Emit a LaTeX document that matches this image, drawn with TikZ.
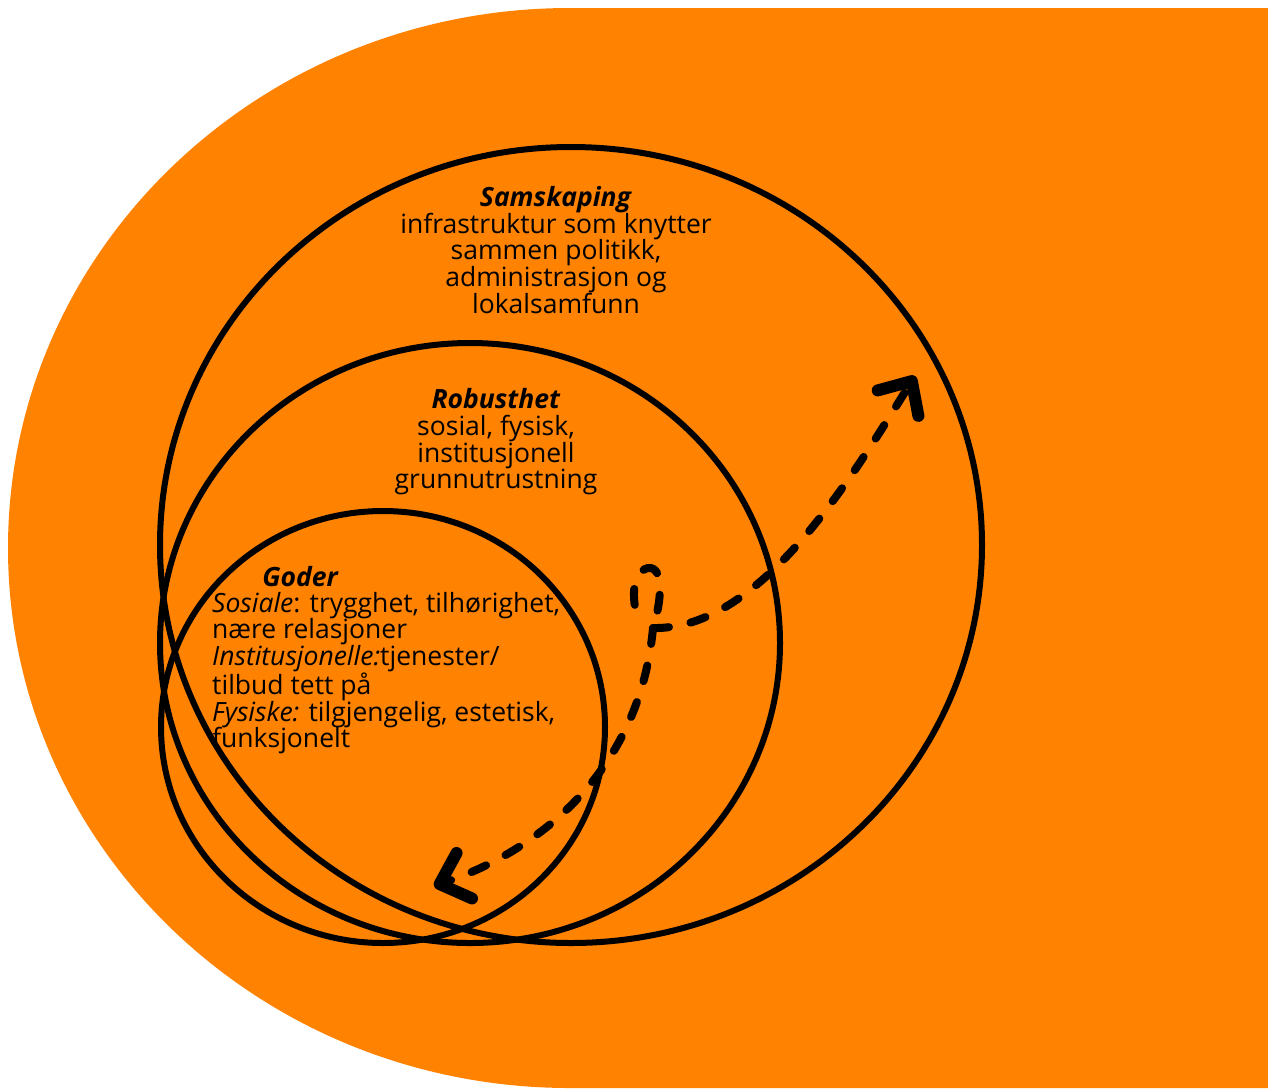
\documentclass[tikz,border=0pt]{standalone}
\usepackage{fontspec}
\setmainfont{Open Sans}
\usetikzlibrary{arrows.meta}
\definecolor{bgorange}{RGB}{255,130,0}

\begin{document}
\begin{tikzpicture}[x=1pt, y=-1pt,
        ring/.style={draw=black, line width=6pt},
        lbl/.style={draw=none, fill=none, inner sep=0pt, font=\fontsize{26.5}{26.7}\selectfont},
        ttl/.style={lbl, font=\fontsize{26.5}{26.7}\selectfont\bfseries\itshape},
        flow/.style={line width=8pt, line cap=round, dash pattern=on 16pt off 22pt,
          -{Straight Barb[length=26pt,width=48pt,line width=12pt,round]}}
      ]
  \useasboundingbox (0,0) rectangle (1268,1088);

  % background
  \fill[bgorange] (1268,8) -- (570,8)
    arc[start angle=90, end angle=270, x radius=562pt, y radius=540pt]
    -- (1268,1088) -- cycle;

  % rings
  \draw[ring] (571,545) ellipse [x radius=411pt, y radius=398pt];
  \draw[ring] (470,643) ellipse [x radius=310pt, y radius=300pt];
  \draw[ring] (383,727) ellipse [x radius=222pt, y radius=216pt];

  % texts
  \node[lbl, align=center] (samskaping) at (556,250)
    {\textbf{\textit{Samskaping}}\\infrastruktur som knytter\\sammen politikk,\\administrasjon og\\lokalsamfunn};
  \node[lbl, align=center] (robusthet) at (496,442)
    {\textbf{\textit{Robusthet}}\\sosial, fysisk,\\institusjonell\\grunnutrustning};
  \node[ttl] (goderTitle) at (300,577) {Goder};
  \node[lbl, align=left, anchor=west] (goder) at (212,673)
    {{\itshape Sosiale}: trygghet, tilhørighet,\\nære relasjoner\\{\itshape Institusjonelle:}tjenester/\\tilbud tett på\\{\itshape Fysiske:} tilgjengelig, estetisk,\\funksjonelt};

  % arrows
  \coordinate (knot) at (653,628);
  \coordinate (upTip) at (915,376);
  \coordinate (downTip) at (434,886);
  \draw[flow] (knot) .. controls (760,630) and (850,480) .. (upTip);
  \draw[flow] (knot) .. controls (640,770) and (540,850) .. (downTip);
  \draw[flow, -, dash phase=20pt] (knot) .. controls (662,600) and (664,566) .. (648,568)
    .. controls (630,572) and (632,605) .. (639,620);

\end{tikzpicture}
\end{document}
